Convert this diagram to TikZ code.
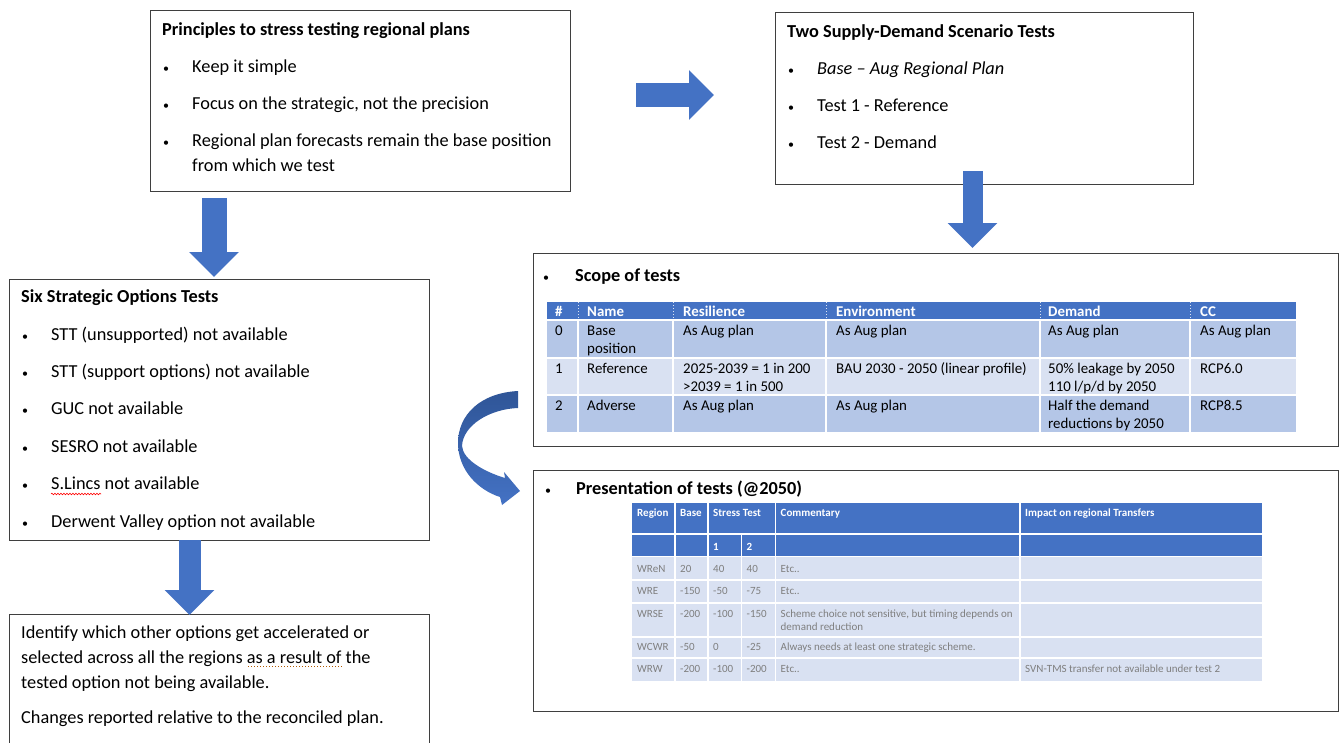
\documentclass[tikz,border=0pt]{standalone}
\usepackage{fontspec}
\setmainfont{Carlito}
\usetikzlibrary{arrows.meta,decorations.pathmorphing}

\definecolor{officeblue}{HTML}{4472C4}
\definecolor{arrowdark}{HTML}{2F5597}
\definecolor{rowdark}{HTML}{B4C6E7}
\definecolor{rowlight}{HTML}{D9E1F2}
\definecolor{celltext}{HTML}{7F7F7F}
\definecolor{boxline}{HTML}{3F3F3F}

\newcommand{\dotmark}{{\fontsize{12}{12}\selectfont\textbullet}}
\newcommand{\bul}{\hspace*{1pt}\makebox[29pt][l]{\dotmark}}

\begin{document}
\begin{tikzpicture}[x=1pt,y=-1pt,
    panel/.style={draw=boxline,line width=1pt,anchor=north west,inner sep=0pt},
    body/.style={anchor=base west,inner sep=0pt,align=left,font=\fontsize{18.3}{25}\selectfont},
    bigarrow/.style={draw=officeblue,line width=#1,-{Triangle[length=25pt,width=48pt]}},
    scopehead/.style={anchor=base west,inner sep=0pt,text=white,font=\fontsize{14.9}{18}\selectfont\bfseries},
    scopecell/.style={anchor=base west,inner sep=0pt,align=left,font=\fontsize{14.9}{18}\selectfont},
    prhead/.style={anchor=base west,inner sep=0pt,text=white,font=\fontsize{11}{13}\selectfont\bfseries},
    prcell/.style={anchor=base west,inner sep=0pt,align=left,text=celltext,font=\fontsize{11}{13}\selectfont},
    sep/.style={draw=white,line width=1.5pt}]

    \useasboundingbox (0,0) rectangle (1343,742);

    % Panels
    \node[panel,minimum width=420,minimum height=181] (principles) at (150,10) {};
    \node[panel,minimum width=418,minimum height=172] (scenarios) at (775,12) {};
    \node[panel,minimum width=420,minimum height=261] (options) at (9,279) {};
    \node[panel,minimum width=805,minimum height=193] (scope) at (533,253) {};
    \node[panel,minimum width=805,minimum height=241] (presentation) at (533,470) {};
    \node[panel,minimum width=420,minimum height=160] (outcome) at (9,614) {};

    % Panel texts (anchored on the last line)
    \node[body] (principlestxt) at (162,171) {\textbf{Principles to stress testing regional plans}\\[12pt]
        \bul Keep it simple\\[12pt]
        \bul Focus on the strategic, not the precision\\[12pt]
        \bul Regional plan forecasts remain the base position\\
        \hspace*{30pt}from which we test};
    \node[body] (scenariostxt) at (787,148) {\textbf{Two Supply-Demand Scenario Tests}\\[12pt]
        \bul \textit{Base -- Aug Regional Plan}\\[12pt]
        \bul Test 1 - Reference\\[12pt]
        \bul Test 2 - Demand};
    \node[body] (optionstxt) at (21,527) {\textbf{Six Strategic Options Tests}\\[12.4pt]
        \bul STT (unsupported) not available\\[12.4pt]
        \bul STT (support options) not available\\[12.4pt]
        \bul GUC not available\\[12.4pt]
        \bul SESRO not available\\[12.4pt]
        \bul S.Lincs not available\\[12.4pt]
        \bul Derwent Valley option not available};
    \node[body] (outcometxt) at (21,723) {Identify which other options get accelerated or\\
        selected across all the regions as a result of the\\
        tested option not being available.\\[10pt]
        Changes reported relative to the reconciled plan.};
    \node[body] (scopetxt) at (543,281) {\makebox[32pt][l]{\dotmark}\textbf{Scope of tests}};
    \node[body] (presentationtxt) at (545,494) {\makebox[31pt][l]{\dotmark}\textbf{Presentation of tests (@2050)}};

    % Proofing marks
    \draw[red,line width=0.6pt,decorate,decoration={snake,amplitude=0.8pt,segment length=3pt}] (51,494) -- (101,494);
    \draw[orange!70!black,line width=1pt,dotted] (248,666) -- (342,666);

    % Scope table
    \fill[officeblue] (547,302) rectangle (1296,320);
    \fill[rowdark] (547,320) rectangle (1296,358);
    \fill[rowlight] (547,358) rectangle (1296,395);
    \fill[rowdark] (547,395) rectangle (1296,432);
    \foreach \x in {578,673,826,1040,1190}{
        \draw[white!80!officeblue,line width=1pt,dotted] (\x,302) -- (\x,320);
        \draw[sep] (\x,320) -- (\x,432);
    }
    \foreach \y in {320,358,395}
        \draw[sep] (547,\y) -- (1296,\y);
    \foreach \x/\t [count=\i] in {555/\#,587/Name,683/Resilience,836/Environment,1048/Demand,1200/CC}
        \node[scopehead] (sh\i) at (\x,316) {\t};
    \foreach \x/\t [count=\i] in {555/0,683/As Aug plan,836/As Aug plan,1048/As Aug plan,1200/As Aug plan}
        \node[scopecell] (sa\i) at (\x,335) {\t};
    \node[scopecell] (sa6) at (587,353) {Base\\position};
    \foreach \x/\t [count=\i] in {555/1,587/Reference,836/{BAU 2030 - 2050 (linear profile)},1200/RCP6.0}
        \node[scopecell] (sb\i) at (\x,373) {\t};
    \node[scopecell] (sb5) at (683,391) {2025-2039 = 1 in 200\\>2039 = 1 in 500};
    \node[scopecell] (sb6) at (1048,391) {50\% leakage by 2050\\110 l/p/d by 2050};
    \foreach \x/\t [count=\i] in {555/2,587/Adverse,683/As Aug plan,836/As Aug plan,1200/RCP8.5}
        \node[scopecell] (sc\i) at (\x,410) {\t};
    \node[scopecell] (sc6) at (1048,428) {Half the demand\\reductions by 2050};

    % Presentation table
    \fill[officeblue] (632,503) rectangle (1262,533);
    \fill[officeblue] (632,535) rectangle (1262,556);
    \fill[rowlight] (632,557) rectangle (1262,681);
    \foreach \x in {675,708,775.5,1020}
        \draw[sep] (\x,503) -- (\x,681);
    \draw[sep] (741.5,535) -- (741.5,681);
    \foreach \y in {580,603,637,658}
        \draw[sep] (632,\y) -- (1262,\y);
    \draw[draw=white,line width=2pt] (632,534) -- (1262,534);
    \draw[sep] (632,556.5) -- (1262,556.5);
    \foreach \x/\t [count=\i] in {637/Region,680/Base,713/Stress Test,780.5/Commentary,1025/Impact on regional Transfers}
        \node[prhead] (ph\i) at (\x,516) {\t};
    \node[prhead] (pt1) at (713,550) {1};
    \node[prhead] (pt2) at (746.5,550) {2};
    \foreach \y/\r/\b/\p/\q/\c [count=\i] in {572/WReN/20/40/40/Etc..,594/WRE/-150/-50/-75/Etc..,617/WRSE/-200/-100/-150/{Scheme choice not sensitive, but timing depends on},650/WCWR/-50/0/-25/{Always needs at least one strategic scheme.},672/WRW/-200/-100/-200/Etc..}{
        \node[prcell] (pr\i a) at (637,\y) {\r};
        \node[prcell] (pr\i b) at (680,\y) {\b};
        \node[prcell] (pr\i c) at (713,\y) {\p};
        \node[prcell] (pr\i d) at (746.5,\y) {\q};
        \node[prcell] (pr\i e) at (780.5,\y) {\c};
    }
    \node[prcell] (pr3f) at (780.5,630) {demand reduction};
    \node[prcell] (pr5f) at (1025,672) {SVN-TMS transfer not available under test 2};

    % Block arrows
    \coordinate (r1) at (636,95);
    \coordinate (r2) at (714,95);
    \coordinate (d1) at (214,198);
    \coordinate (d2) at (214,277);
    \coordinate (e1) at (972.5,171);
    \coordinate (e2) at (972.5,248);
    \coordinate (f1) at (189.5,540);
    \coordinate (f2) at (189.5,615);
    \draw[bigarrow=24pt] (r1) -- (r2);
    \draw[bigarrow=25pt] (d1) -- (d2);
    \draw[bigarrow=20pt] (e1) -- (e2);
    \draw[bigarrow=22pt] (f1) -- (f2);

    % Curved arrow from scope to presentation
    \shade[top color=arrowdark,bottom color=officeblue]
        (518,391) .. controls (480,393) and (458,415) .. (458,443)
        .. controls (458,470) and (478,490) .. (500,497)
        -- (502,505) -- (520,491) -- (504,472) -- (505,478)
        .. controls (485,472) and (463,460) .. (462,446)
        .. controls (463,425) and (490,409) .. (518,408) -- cycle;

\end{tikzpicture}
\end{document}
